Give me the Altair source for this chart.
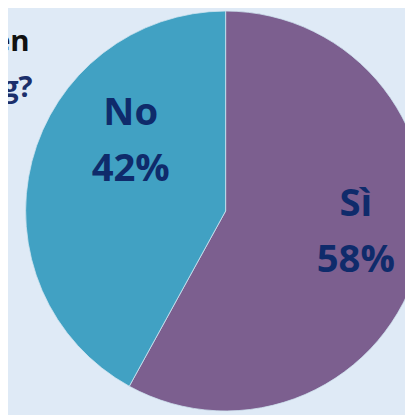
import altair as alt
import pandas as pd

# Data
categories = ["Sì", "No"]
values = [58, 42]
order_idx = [0, 1]
title_fragments = ["en", "g?"]

BG = "#dfeaf6"
PURPLE = "#7c5f8f"
TEAL = "#41a1c3"
NAVY = "#0f2b6b"

df = pd.DataFrame({
    "cat": categories,
    "value": values,
    "idx": order_idx,
    "label": [f"{c}\n{v}%" for c, v in zip(categories, values)],
})
total = sum(values)

CX, CY, R = 222, 203, 204
theta_scale = alt.Scale(domain=[0, total])

arcs = alt.Chart(df).mark_arc(radius=R, stroke="#cfe4ef", strokeWidth=0.8).encode(
    theta=alt.Theta("value:Q", stack=True, scale=theta_scale),
    order=alt.Order("idx:Q"),
    color=alt.Color("cat:N", scale=alt.Scale(domain=categories, range=[PURPLE, TEAL]), legend=None),
    x=alt.value(CX),
    y=alt.value(CY),
)

text_base = alt.Chart(df).transform_window(
    cum="sum(value)", sort=[alt.SortField("idx")]
).transform_calculate(
    mid="datum.cum - datum.value / 2"
).encode(
    theta=alt.Theta("mid:Q", stack=False, scale=theta_scale),
    text="label:N",
    x=alt.value(CX),
    y=alt.value(CY),
)

text_style = dict(font="Open Sans", fontWeight="bold", fontSize=39, color=NAVY,
                  lineBreak="\n", lineHeight=57, baseline="middle", align="center")

txt_si = text_base.transform_filter(alt.datum.cat == categories[0]).mark_text(
    radius=133, dx=4, dy=-40, **text_style)
txt_no = text_base.transform_filter(alt.datum.cat == categories[1]).mark_text(
    radius=102, dx=2, dy=-74, **text_style)

tdf1 = pd.DataFrame({"t": [title_fragments[0]]})
tdf2 = pd.DataFrame({"t": [title_fragments[1]]})
title_style = dict(font="Open Sans", fontWeight="bold", fontSize=30, align="right", baseline="alphabetic")
t1 = alt.Chart(tdf1).mark_text(color="#111111", **title_style).encode(
    text="t:N", x=alt.value(22), y=alt.value(40))
t2 = alt.Chart(tdf2).mark_text(color="#1b2f6b", **title_style).encode(
    text="t:N", x=alt.value(25), y=alt.value(87))

chart = alt.layer(arcs, txt_si, txt_no, t1, t2).properties(
    width=405, height=407, background=BG, padding=0,
    autosize=alt.AutoSizeParams(type="none"),
).configure_view(stroke=None)

chart.save("out.html", embed_options={"renderer": "svg", "actions": False})
